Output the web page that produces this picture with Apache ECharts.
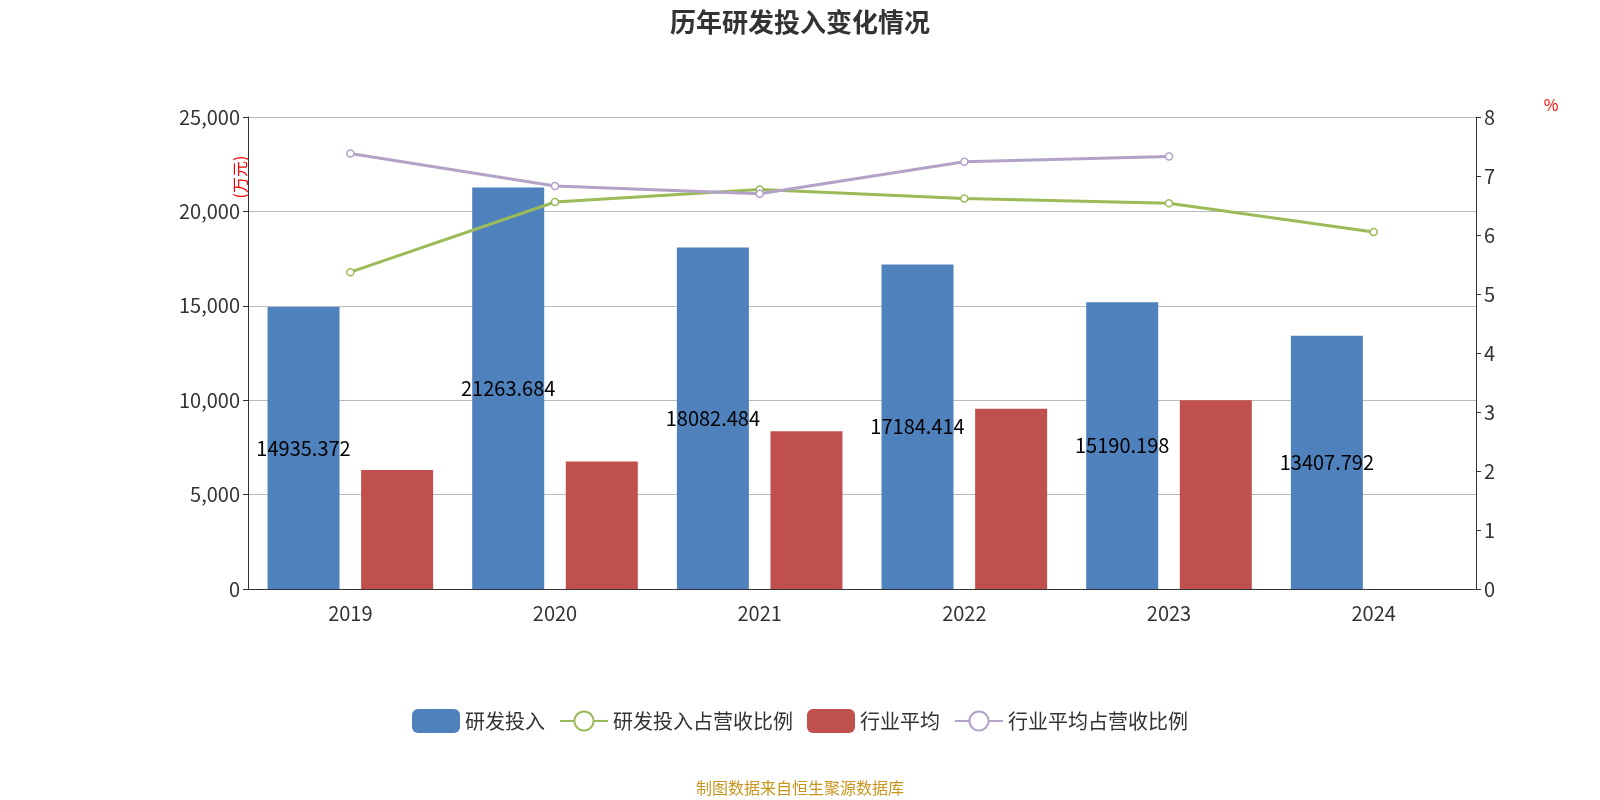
<!DOCTYPE html>
<html>
<head>
<meta charset="utf-8">
<script src="https://cdn.jsdelivr.net/npm/echarts@6/dist/echarts.min.js"></script>
<style>html,body{margin:0;padding:0;background:#fff}#main{width:1600px;height:800px}</style>
</head>
<body>
<div id="main"></div>
<script>
const years = ['2019', '2020', '2021', '2022', '2023', '2024'];
const rdSpend = [14935.372, 21263.684, 18082.484, 17184.414, 15190.198, 13407.792];
const rdRatio = [5.37, 6.56, 6.77, 6.62, 6.54, 6.05];
const industryAvg = [6300, 6750, 8350, 9550, 10000, null];
const industryRatio = [7.38, 6.83, 6.70, 7.24, 7.33, null];

const myChart = echarts.init(document.getElementById('main'));
const font = '"Noto Sans CJK SC", "Noto Sans", sans-serif';

myChart.setOption({
    animation: false,
    textStyle: { fontFamily: font },
    title: {
        text: '历年研发投入变化情况',
        left: 'center',
        top: 4,
        textStyle: { fontSize: 26, fontWeight: 'bold', color: '#333' }
    },
    grid: { left: 248, right: 124, top: 117, bottom: 211 },
    legend: {
        bottom: 62,
        itemWidth: 48,
        itemHeight: 24,
        itemGap: 14,
        textStyle: { fontSize: 20, color: '#333' },
        data: ['研发投入', '研发投入占营收比例', '行业平均', '行业平均占营收比例']
    },
    graphic: [{
        type: 'text',
        left: 'center',
        bottom: 4,
        style: { text: '制图数据来自恒生聚源数据库', fill: '#c8961e', fontSize: 16, fontFamily: font }
    }],
    xAxis: {
        type: 'category',
        data: years,
        axisLine: { lineStyle: { color: '#333' } },
        axisTick: { length: 6 },
        axisLabel: { fontSize: 20, color: '#333', margin: 14 }
    },
    yAxis: [{
        type: 'value',
        min: 0, max: 25000, interval: 5000,
        name: '(万元)',
        nameRotate: 90,
        nameLocation: 'end',
        nameGap: -40,
        nameTextStyle: { color: 'red', fontSize: 16, padding: [0, 0, 0, 0], align: 'right', verticalAlign: 'bottom' },
        axisLine: { show: true, lineStyle: { color: '#333' } },
        axisTick: { show: true },
        axisLabel: { fontSize: 20, color: '#333' },
        splitLine: { lineStyle: { color: '#bbb' } }
    }, {
        type: 'value',
        min: 0, max: 8, interval: 1,
        name: '%',
        nameGap: 4,
        nameTextStyle: { color: 'red', fontSize: 16, padding: [0, 0, 0, 150] },
        axisLine: { show: true, lineStyle: { color: '#333' } },
        axisTick: { show: true },
        axisLabel: { fontSize: 20, color: '#333' },
        splitLine: { show: false }
    }],
    series: [{
        name: '研发投入',
        type: 'bar',
        data: rdSpend,
        barWidth: 72,
        barGap: '30%',
        itemStyle: { color: '#4f81bd' },
        label: { show: true, position: 'inside', color: '#000', fontSize: 20 }
    }, {
        name: '研发投入占营收比例',
        type: 'line',
        yAxisIndex: 1,
        data: rdRatio,
        symbol: 'circle',
        symbolSize: 7,
        itemStyle: { color: '#fff', borderColor: '#9bbb59', borderWidth: 1.5 },
        lineStyle: { color: '#9bbb59', width: 3 }
    }, {
        name: '行业平均',
        type: 'bar',
        data: industryAvg,
        barWidth: 72,
        itemStyle: { color: '#c0504d' }
    }, {
        name: '行业平均占营收比例',
        type: 'line',
        yAxisIndex: 1,
        data: industryRatio,
        symbol: 'circle',
        symbolSize: 7,
        itemStyle: { color: '#fff', borderColor: '#b3a2c7', borderWidth: 1.5 },
        lineStyle: { color: '#b3a2c7', width: 3 }
    }]
});
</script>
</body>
</html>
